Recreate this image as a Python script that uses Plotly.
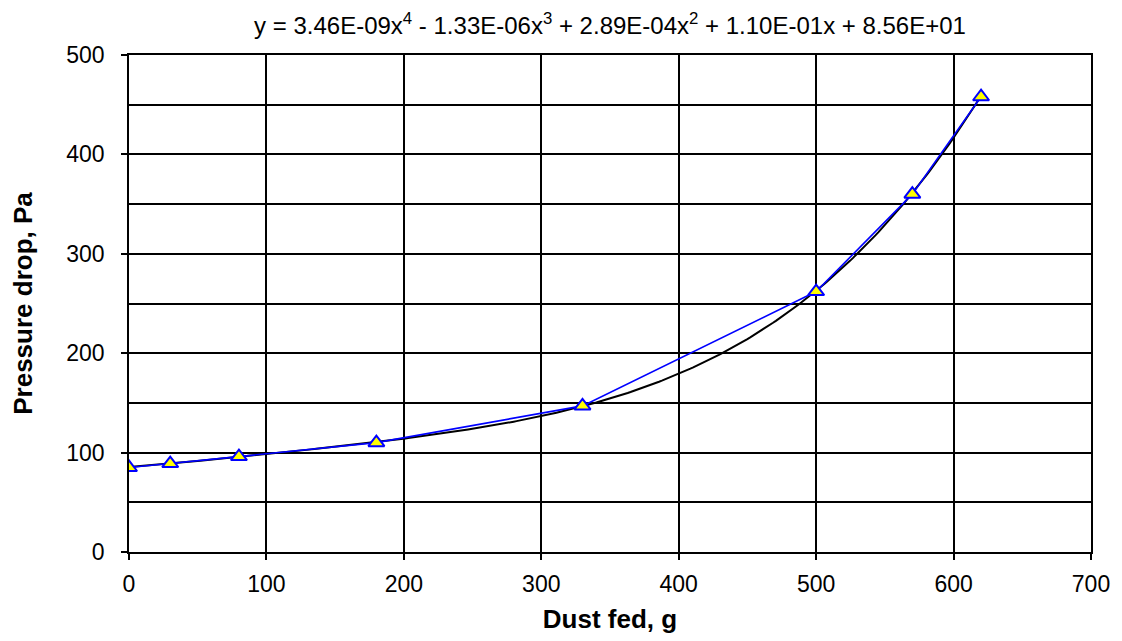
import numpy as np
import plotly.graph_objects as go

dust_fed = [0, 30, 80, 180, 330, 500, 570, 620]
pressure_drop = [85, 89, 96, 110, 147, 262, 360, 458]
trend_coeffs = [3.46e-09, -1.33e-06, 2.89e-04, 1.10e-01, 8.56e+01]
x_ticks = [0, 100, 200, 300, 400, 500, 600, 700]
y_ticks = [0, 100, 200, 300, 400, 500]

xt = np.linspace(0, 620, 300)
yt = np.polyval(trend_coeffs, xt)

fig = go.Figure()
fig.add_trace(go.Scatter(x=xt, y=yt, mode="lines",
                         line=dict(color="black", width=2), showlegend=False))
fig.add_trace(go.Scatter(x=dust_fed, y=pressure_drop, mode="lines+markers",
                         line=dict(color="#0000ff", width=1.6),
                         marker=dict(symbol="triangle-up", size=14, color="#ffff00",
                                     line=dict(color="#0000ff", width=2)),
                         showlegend=False))

font = "Liberation Sans, Arial, sans-serif"
W, H = 1114, 633
fig.update_layout(
    width=W, height=H,
    margin=dict(l=119, r=31, t=47, b=88),
    paper_bgcolor="white", plot_bgcolor="white",
    font=dict(family=font, color="black", size=23),
    title=dict(text="y = 3.46E-09x<sup>4</sup> - 1.33E-06x<sup>3</sup> + 2.89E-04x<sup>2</sup> + 1.10E-01x + 8.56E+01",
               x=0.5, xref="paper", y=1 - 18 / H, yref="container", yanchor="middle",
               font=dict(size=24, family=font)),
    xaxis=dict(range=[0, 700], tickvals=x_ticks, ticks="outside", ticklen=6, tickcolor="black",
               tickwidth=1.8, ticklabelstandoff=4,
               showgrid=True, gridcolor="black", gridwidth=1.8,
               showline=True, linecolor="black", linewidth=1.8, mirror=True, zeroline=False,
               title=dict(text="<b>Dust fed, g</b>", font=dict(size=26, family=font), standoff=14),
               tickfont=dict(size=23)),
    yaxis=dict(range=[0, 500], tickvals=y_ticks, ticks="outside", ticklen=6, tickcolor="black",
               tickwidth=1.8, ticklabelstandoff=12,
               showgrid=True, gridcolor="black", gridwidth=1.8,
               minor=dict(dtick=50, tick0=0, showgrid=True, gridcolor="black", gridwidth=1.8, ticks=""),
               showline=True, linecolor="black", linewidth=1.8, mirror=True, zeroline=False,
               title=dict(text="<b>Pressure drop, Pa</b>", font=dict(size=26, family=font), standoff=28),
               tickfont=dict(size=23)),
)
fig.write_html("out.html")
